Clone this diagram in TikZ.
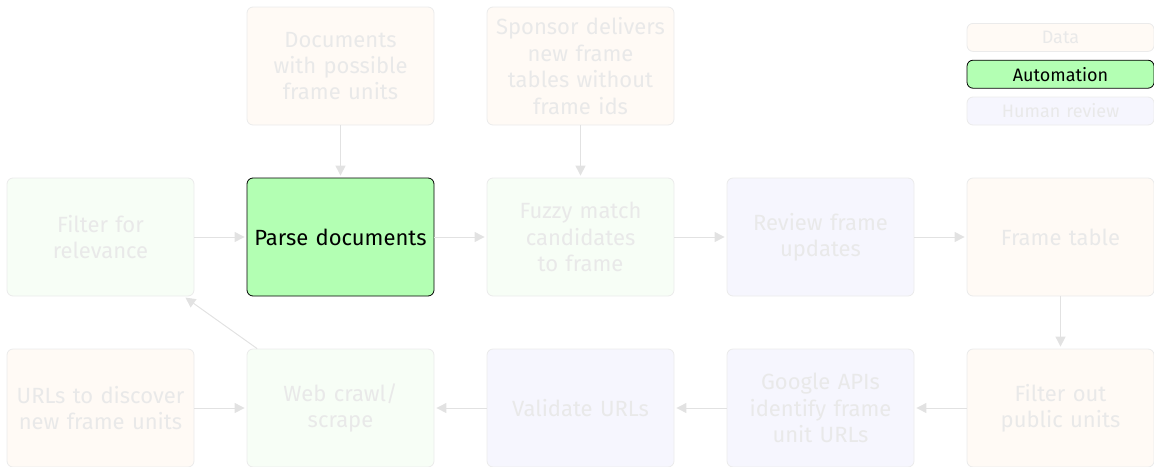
\documentclass[tikz,border=0pt]{standalone}
\usepackage{fontspec}
\setmainfont{Fira Sans}
\usepackage{xcolor}
\usetikzlibrary{positioning}
\usetikzlibrary{arrows.meta}
\definecolor{datafill}{HTML}{FFFAF5}
\definecolor{autofill}{HTML}{B3FFB3}
\definecolor{autofade}{HTML}{F7FEF6}
\definecolor{humanfill}{HTML}{F6F6FE}
\definecolor{fadeline}{HTML}{EBEBEB}
\definecolor{fadetext}{HTML}{E9E9E9}
\definecolor{flowgray}{HTML}{E2E2E2}

\begin{document}
\begin{tikzpicture}[x=0.5pt,y=-0.5pt,node distance=26.1pt,font=\fontsize{11}{13.2}\selectfont]
  \tikzstyle{box}=[draw, rounded corners=3pt, minimum width=93.5pt, minimum height=59pt,
    text width=90pt, align=center, inner sep=0pt]
  \tikzstyle{databox}=[box, fill=datafill, draw=fadeline, text=fadetext]
  \tikzstyle{autobox}=[box, fill=autofade, draw=fadeline, text=fadetext]
  \tikzstyle{humanbox}=[box, fill=humanfill, draw=fadeline, text=fadetext]
  \tikzstyle{focusbox}=[box, fill=autofill, draw=black]
  \tikzstyle{keybox}=[minimum height=14pt, font=\fontsize{9}{11}\selectfont]
  \tikzstyle{flow}=[draw=flowgray, line width=0.5pt, -{Triangle[length=5pt,width=5pt]}, shorten >=1pt]

  \useasboundingbox (0,0) rectangle (1154,466);

  % middle row
  \node[autobox] (filter) at (100.5,237) {Filter for\\relevance};
  \node[focusbox, right=of filter] (parse) {Parse documents};
  \node[autobox, right=of parse] (fuzzy) {Fuzzy match\\candidates\\to frame};
  \node[humanbox, right=of fuzzy] (review) {Review frame\\updates};
  \node[databox, right=of review] (frametable) {Frame table};

  % top row
  \node[databox, above=of parse] (docs) {Documents\\with possible\\frame units};
  \node[databox, above=of fuzzy] (sponsor) {Sponsor delivers\\new frame\\tables without\\frame ids};

  % bottom row
  \node[databox, below=of frametable] (public) {Filter out\\public units};
  \node[humanbox, left=of public] (google) {Google APIs\\identify frame\\unit URLs};
  \node[humanbox, left=of google] (validate) {Validate URLs};
  \node[autobox, left=of validate] (crawl) {Web crawl/\\scrape};
  \node[databox, left=of crawl] (urls) {URLs to discover\\new frame units};

  % legend
  \node[humanbox, keybox, above=of frametable] (keyhuman) {Human review};
  \node[focusbox, keybox, above=4pt of keyhuman] (keyauto) {Automation};
  \node[databox, keybox, above=4pt of keyauto] (keydata) {Data};

  \draw[flow] (filter) -- (parse);
  \draw[flow] (parse) -- (fuzzy);
  \draw[flow] (fuzzy) -- (review);
  \draw[flow] (review) -- (frametable);
  \draw[flow] (docs) -- (parse);
  \draw[flow] (sponsor) -- (fuzzy);
  \draw[flow] (frametable) -- (public);
  \draw[flow] (public) -- (google);
  \draw[flow] (google) -- (validate);
  \draw[flow] (validate) -- (crawl);
  \draw[flow] (urls) -- (crawl);
  \draw[flow] (crawl) -- (filter);
\end{tikzpicture}
\end{document}
